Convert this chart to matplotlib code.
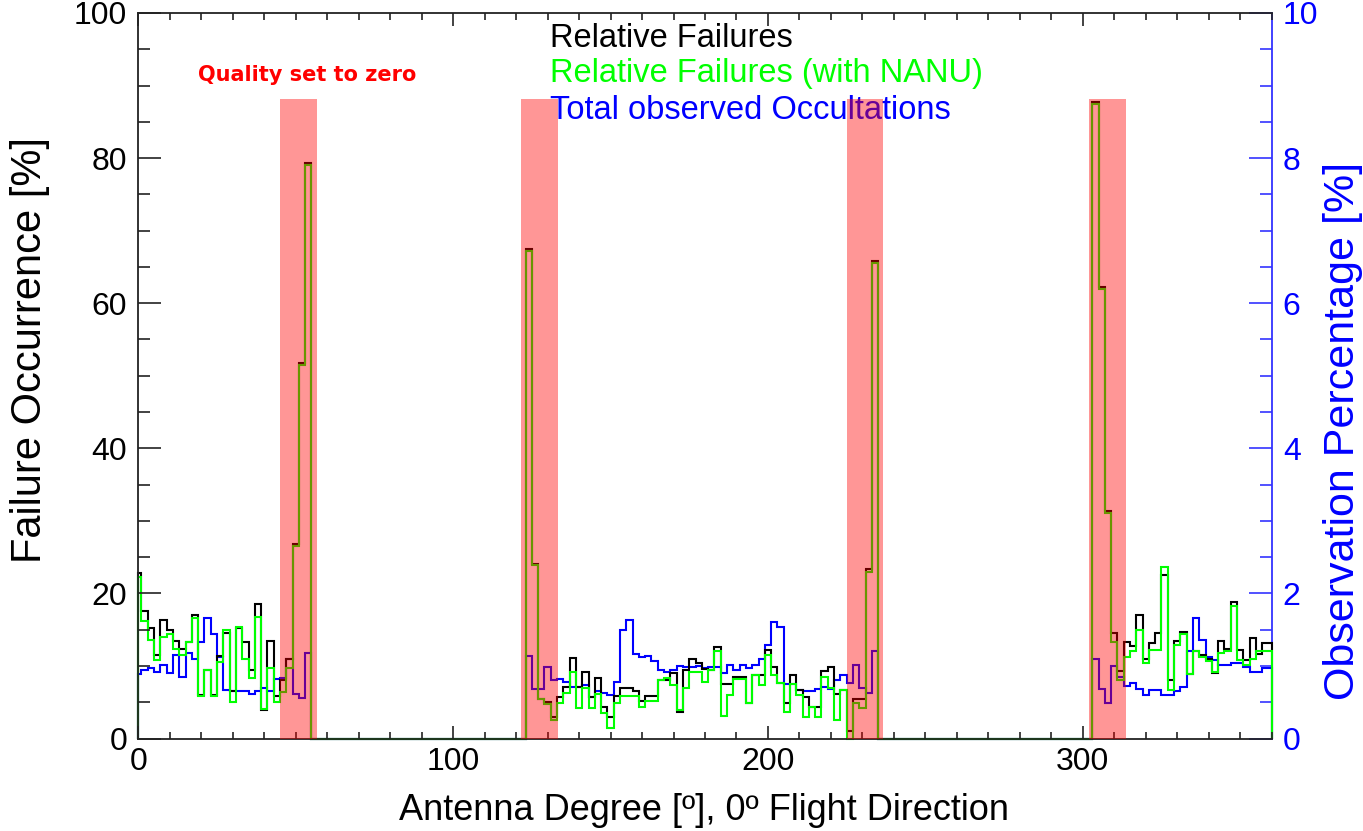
import numpy as np
import matplotlib
matplotlib.use('Agg')
import matplotlib.pyplot as plt
from matplotlib.ticker import MultipleLocator

plt.rcParams['font.family'] = ['Liberation Sans', 'DejaVu Sans']

# 2 degree bins, centres 0, 2, ..., 358
# relative failures (black), left axis [%]
fail_a = [22.8, 17.6, 15.2, 11.5, 16.4, 15.0, 13.5, 12.3, 13.3, 17.0,
          6.0, 9.4, 6.0, 11.4, 14.5, 6.5, 15.2, 13.3, 9.4, 18.6,
          3.9, 13.4, 5.9, 8.0, 10.9, 26.8, 51.8, 79.3]
fail_b = [67.4, 24.1, 5.5, 5.0, 3.0, 5.7, 7.1, 11.1, 7.1, 9.2,
          5.7, 8.4, 4.3, 3.0, 5.8, 6.9, 6.9, 6.6, 5.2, 5.9,
          5.9, 8.1, 8.1, 9.0, 3.7, 9.4, 11.0, 10.4, 9.6, 9.4,
          12.6, 7.5, 7.5, 8.5, 8.5, 4.9, 8.7, 8.7, 12.2, 9.8,
          7.6, 4.9, 8.7, 6.7, 5.7, 4.4, 4.4, 9.3, 9.8, 6.1,
          6.7, 1.1, 5.5, 5.4, 23.3, 65.8]
fail_c = [87.7, 62.2, 31.3, 14.6, 9.3, 13.3, 12.7, 17.0, 11.0, 13.1,
          14.6, 22.5, 8.0, 13.4, 14.7, 8.9, 12.0, 11.5, 11.0, 9.0,
          13.4, 12.4, 18.8, 12.2, 10.8, 13.8, 11.6, 13.2]

# relative failures with NANU (green)
nanu_a = [22.3, 16.2, 13.6, 10.8, 14.0, 14.4, 12.3, 11.5, 13.3, 16.6,
          5.8, 9.4, 5.8, 10.6, 14.9, 5.1, 15.4, 11.0, 8.4, 16.8,
          4.1, 9.7, 5.0, 6.4, 9.7, 26.5, 51.5, 79.0]
nanu_b = [67.2, 23.9, 5.5, 4.8, 2.5, 4.9, 6.3, 9.2, 4.2, 6.9,
          4.2, 6.1, 3.5, 1.5, 4.9, 5.8, 5.8, 5.8, 4.3, 5.2,
          5.2, 8.1, 8.4, 7.4, 3.9, 6.9, 9.2, 9.2, 7.8, 9.4,
          12.1, 3.1, 6.0, 8.2, 8.2, 4.9, 8.7, 7.4, 11.5, 8.7,
          7.6, 3.7, 7.5, 6.0, 2.9, 4.4, 2.9, 8.5, 6.9, 2.5,
          6.7, 0.0, 4.9, 4.2, 23.0, 65.5]
nanu_c = [87.5, 61.9, 31.1, 13.3, 8.1, 11.3, 12.0, 14.9, 10.4, 12.2,
          12.2, 23.6, 6.7, 12.9, 14.4, 8.9, 12.0, 11.3, 10.7, 9.1,
          11.8, 12.0, 18.2, 10.8, 10.2, 11.0, 12.0, 12.0]

# total observed occultations (blue), right axis [%]
obs_a = [0.89, 0.95, 0.97, 0.92, 1.01, 0.90, 1.15, 0.85, 1.18, 1.10,
         1.33, 1.66, 1.44, 1.13, 0.67, 0.66, 0.65, 0.65, 0.61, 0.65,
         0.69, 0.65, 0.82, 0.84, 1.09, 0.62, 0.56, 1.18]
obs_b = [1.14, 0.68, 0.68, 0.99, 0.81, 0.82, 0.78, 0.71, 0.71, 0.74,
         0.57, 0.65, 0.63, 0.60, 0.78, 1.50, 1.64, 1.16, 1.12, 1.14,
         1.07, 0.95, 0.92, 0.95, 1.00, 0.99, 0.99, 1.00, 0.97, 0.99,
         0.99, 0.90, 1.01, 0.95, 1.01, 0.97, 1.01, 1.10, 1.29, 1.60,
         1.54, 0.75, 0.75, 0.67, 0.66, 0.66, 0.68, 0.71, 0.68, 0.80,
         0.87, 0.76, 1.01, 0.69, 0.63, 1.20]
obs_c = [1.09, 0.68, 0.49, 1.00, 0.85, 0.72, 0.76, 0.68, 0.60, 0.67,
         0.67, 0.60, 0.60, 0.66, 0.71, 1.20, 1.66, 1.36, 1.13, 1.08,
         1.01, 1.01, 1.04, 1.04, 0.98, 0.92, 0.92, 0.97]

# bins 56..122 and 236..302 have no data
gap = [0.0] * 34
rel_fail = np.array(fail_a + gap + fail_b + gap + fail_c)
rel_nanu = np.array(nanu_a + gap + nanu_b + gap + nanu_c)
obs_pct = np.array(obs_a + gap + obs_b + gap + obs_c)

# antenna ranges with quality set to zero [deg]
zero_ranges = [(45.0, 56.7), (121.6, 133.2), (225.0, 236.6), (302.0, 313.7)]

edges = np.r_[0, np.arange(1, 358, 2), 360]

fig = plt.figure(figsize=(13.63, 8.31), dpi=100)
ax = fig.add_axes([0.1015, 0.1113, 0.8315, 0.8731])
ax2 = ax.twinx()
# blue axis underneath so the failure curves and shaded bands sit on top
ax.set_zorder(ax2.get_zorder() + 1)
ax.patch.set_visible(False)

ax2.stairs(obs_pct, edges, baseline=0, color='#0000ff', lw=1.5, clip_on=False)
ax.stairs(rel_fail, edges, baseline=0, color='black', lw=1.5, clip_on=False)
ax.stairs(rel_nanu, edges, baseline=0, color='#00ff00', lw=1.5, clip_on=False)

# blue curve lies in the lower axes, so blend it the same way as the others
for x0, x1 in zero_ranges:
    ax.axvspan(x0, x1, ymin=0, ymax=0.882, color='red', alpha=0.41, lw=0, zorder=5)

ax.set_xlim(0, 360)
ax.set_ylim(0, 100)
ax2.set_ylim(0, 10)
ax.set_xticks([0, 100, 200, 300])
ax.xaxis.set_minor_locator(MultipleLocator(10))
ax.set_yticks(range(0, 101, 20))
ax.yaxis.set_minor_locator(MultipleLocator(5))
ax2.set_yticks(range(0, 11, 2))
ax2.yaxis.set_minor_locator(MultipleLocator(0.5))

axc = '#222222'
ax.tick_params(axis='x', which='major', direction='in', length=9.5, width=1.2,
               top=True, labelsize=23, pad=6, color=axc)
ax.tick_params(axis='x', which='minor', direction='in', length=4.7, width=1.2,
               top=True, color=axc)
ax.tick_params(axis='y', which='major', direction='in', length=16.5, width=1.2,
               right=False, labelsize=23, pad=8, color=axc)
ax.tick_params(axis='y', which='minor', direction='in', length=8.6, width=1.2,
               right=False, color=axc)
ax2.tick_params(axis='y', which='major', direction='in', length=16.5, width=1.2,
                labelsize=23, pad=8, color='#3333ff', labelcolor='#0000ff')
ax2.tick_params(axis='y', which='minor', direction='in', length=8.6, width=1.2,
                color='#3333ff')

for s in ['left', 'top', 'bottom']:
    ax.spines[s].set_color(axc)
    ax.spines[s].set_linewidth(1.3)
    ax2.spines[s].set_visible(False)
ax.spines['right'].set_visible(False)
ax2.spines['right'].set_color('#3333ff')
ax2.spines['right'].set_linewidth(1.3)

fig.text(30 / 1363, 1 - 350 / 831, 'Failure Occurrence [%]', rotation=90,
         ha='center', va='center', fontsize=30)
fig.text(1343 / 1363, 1 - 431 / 831, 'Observation Percentage [%]', rotation=90,
         ha='center', va='center', fontsize=31, color='#0000ff')
fig.text(704 / 1363, 1 - 810 / 831, 'Antenna Degree [º], 0º Flight Direction',
         ha='center', va='center', fontsize=26)

ax.text(130.7, 96.5, 'Relative Failures', fontsize=23.5, color='black', va='center')
ax.text(130.7, 91.6, 'Relative Failures (with NANU)', fontsize=23.5, color='#00ff00', va='center')
ax.text(130.7, 86.6, 'Total observed Occultations', fontsize=23.5, color='#0000ff', va='center')
ax.text(19.0, 91.5, 'Quality set to zero', fontsize=15, color='red', fontweight='bold',
        family='DejaVu Sans', va='center')

fig.savefig('out.png', dpi=100)
